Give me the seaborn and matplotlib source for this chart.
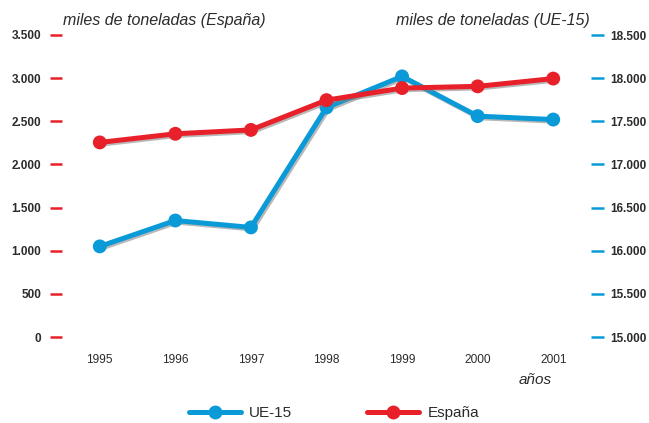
import matplotlib
matplotlib.use("Agg")
import matplotlib.pyplot as plt
import matplotlib.patheffects as pe
from matplotlib.lines import Line2D
import seaborn as sns
import pandas as pd

# Data (thousands of tonnes)
years = [1995, 1996, 1997, 1998, 1999, 2000, 2001]
espana = [2255, 2355, 2400, 2745, 2885, 2905, 2995]
ue15 = [16050, 16350, 16270, 17660, 18020, 17560, 17520]
left_ticks = [0, 500, 1000, 1500, 2000, 2500, 3000, 3500]
right_ticks = [15000, 15500, 16000, 16500, 17000, 17500, 18000, 18500]

RED = "#E8202A"
BLUE = "#0A9AD8"
LABEL = "#2b2b2b"

sns.set_theme(style="white")
plt.rcParams["font.family"] = ["Liberation Sans", "DejaVu Sans"]

df = pd.DataFrame({"year": years, "España": espana, "UE-15": ue15})

fig = plt.figure(figsize=(6.49, 4.23), dpi=100)
ax = fig.add_axes([62 / 649, (423 - 337) / 423, (591 - 62) / 649, (337 - 35) / 423])
ax2 = ax.twinx()

shadow = [pe.SimpleLineShadow(offset=(1.2, -1.2), shadow_color="#808080", alpha=0.55), pe.Normal()]
line_kw = dict(marker="o", markersize=10, linewidth=3.6, markeredgewidth=0)

sns.lineplot(data=df, x="year", y="UE-15", ax=ax2, color=BLUE, **line_kw)
sns.lineplot(data=df, x="year", y="España", ax=ax, color=RED, **line_kw)
for a in (ax, ax2):
    for ln in a.get_lines():
        ln.set_path_effects(shadow)

ax.set_zorder(2)
ax2.set_zorder(1)
ax.patch.set_visible(False)

ax.set_xlim(1994.5, 2001.5)
ax.set_ylim(0, 3500)
ax2.set_ylim(15000, 18500)

def fmt(v):
    return f"{v:,.0f}".replace(",", ".")

ax.set_yticks(left_ticks)
ax.set_yticklabels([fmt(v) for v in left_ticks])
ax2.set_yticks(right_ticks)
ax2.set_yticklabels([fmt(v) for v in right_ticks])
ax.set_xticks(years)
ax.set_xticklabels([str(y) for y in years], fontsize=8.6, color=LABEL)

ax.tick_params(axis="y", length=9, width=1.8, color=RED, pad=6,
               labelsize=8.5, labelcolor=LABEL)
ax2.tick_params(axis="y", length=9, width=1.8, color=BLUE, pad=5,
                labelsize=8.5, labelcolor=LABEL)
for t in ax.get_yticklabels() + ax2.get_yticklabels():
    t.set_fontweight("bold")
ax.tick_params(axis="x", length=0, pad=12)

for a in (ax, ax2):
    a.set_xlabel("")
    a.set_ylabel("")
    a.grid(False)
    for s in a.spines.values():
        s.set_visible(False)

fig.text(63 / 649, 1 - 21 / 423, "miles de toneladas (España)", fontsize=11.5,
         style="italic", color=LABEL, ha="left", va="center")
fig.text(396 / 649, 1 - 21 / 423, "miles de toneladas (UE-15)", fontsize=11.5,
         style="italic", color=LABEL, ha="left", va="center")
fig.text(535 / 649, 1 - 380 / 423, "años", fontsize=11, style="italic",
         color=LABEL, ha="center", va="center")

handles = [
    Line2D([], [], color=BLUE, lw=3.6, marker="o", markersize=10, markeredgewidth=0),
    Line2D([], [], color=RED, lw=3.6, marker="o", markersize=10, markeredgewidth=0),
]
fig.legend(handles, ["UE-15", "España"], loc="center", bbox_to_anchor=(334 / 649, 1 - 413 / 423),
           ncol=2, frameon=False, handlelength=3.4, handletextpad=0.55, columnspacing=4.9,
           prop={"size": 11}, labelcolor=LABEL)

fig.savefig("out.png", dpi=100)
